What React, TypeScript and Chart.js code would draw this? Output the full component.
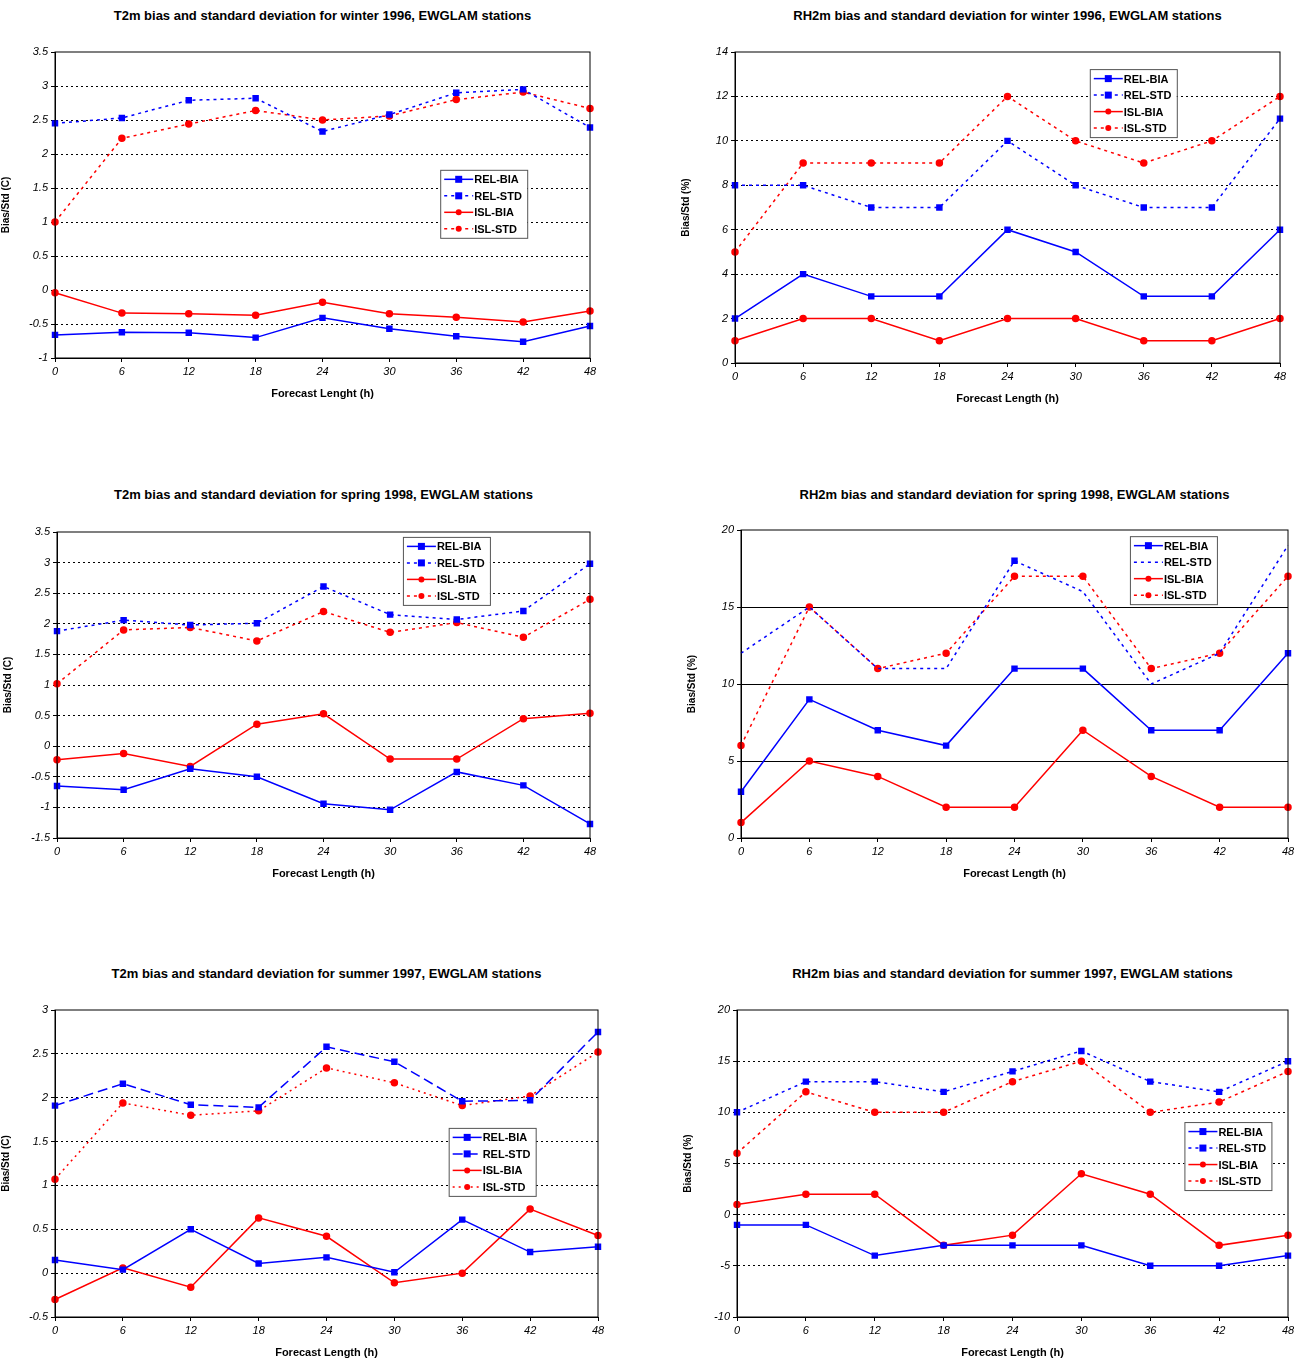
import { useEffect, useRef } from 'react'
import { Chart, registerables } from 'chart.js'

Chart.register(...registerables)

const HOURS = ['0', '6', '12', '18', '24', '30', '36', '42', '48']

// T2m winter 1996
const t2wRelBia = [-0.66, -0.62, -0.63, -0.7, -0.41, -0.57, -0.68, -0.76, -0.53]
const t2wRelStd = [2.45, 2.53, 2.79, 2.82, 2.33, 2.58, 2.9, 2.95, 2.39]
const t2wIslBia = [-0.04, -0.34, -0.35, -0.37, -0.18, -0.35, -0.4, -0.47, -0.31]
const t2wIslStd = [1.0, 2.23, 2.44, 2.64, 2.5, 2.56, 2.8, 2.91, 2.67]

// RH2m winter 1996
const rhwRelBia = [2, 4, 3, 3, 6, 5, 3, 3, 6]
const rhwRelStd = [8, 8, 7, 7, 10, 8, 7, 7, 11]
const rhwIslBia = [1, 2, 2, 1, 2, 2, 1, 1, 2]
const rhwIslStd = [5, 9, 9, 9, 12, 10, 9, 10, 12]

// T2m spring 1998
const t2sRelBia = [-0.65, -0.71, -0.37, -0.5, -0.94, -1.04, -0.42, -0.64, -1.27]
const t2sRelStd = [1.88, 2.06, 1.98, 2.01, 2.61, 2.15, 2.07, 2.21, 2.98]
const t2sIslBia = [-0.22, -0.12, -0.33, 0.36, 0.53, -0.21, -0.21, 0.45, 0.54]
const t2sIslStd = [1.02, 1.9, 1.94, 1.72, 2.2, 1.86, 2.02, 1.78, 2.4]

// RH2m spring 1998
const rhsRelBia = [3, 9, 7, 6, 11, 11, 7, 7, 12]
const rhsRelStd = [12, 15, 11, 11, 18, 16, 10, 12, 19]
const rhsIslBia = [1, 5, 4, 2, 2, 7, 4, 2, 2]
const rhsIslStd = [6, 15, 11, 12, 17, 17, 11, 12, 17]

// T2m summer 1997
const t2uRelBia = [0.15, 0.04, 0.5, 0.11, 0.18, 0.01, 0.61, 0.24, 0.3]
const t2uRelStd = [1.91, 2.16, 1.92, 1.89, 2.58, 2.41, 1.96, 1.97, 2.75]
const t2uIslBia = [-0.3, 0.06, -0.16, 0.63, 0.42, -0.11, 0.0, 0.73, 0.43]
const t2uIslStd = [1.07, 1.94, 1.8, 1.85, 2.34, 2.17, 1.91, 2.02, 2.52]

// RH2m summer 1997
const rhuRelBia = [-1, -1, -4, -3, -3, -3, -5, -5, -4]
const rhuRelStd = [10, 13, 13, 12, 14, 16, 13, 12, 15]
const rhuIslBia = [1, 2, 2, -3, -2, 4, 2, -3, -2]
const rhuIslStd = [6, 12, 10, 10, 13, 15, 10, 11, 14]

const BLUE = '#0000ff'
const RED = '#ff0000'
const FONT = 'Liberation Sans, Arial, sans-serif'

type Series = { label: string; data: number[]; color: string; dash: number[]; marker: 'rect' | 'circle'; radius?: number[] }

type PanelDef = {
  title: string
  xTitle: string
  yTitle: string
  min: number
  max: number
  step: number
  series: Series[]
  solidGrid?: boolean
  // plot area in page coords
  plot: [number, number, number, number]
  titleY: number
  legend: [number, number]
}

const legendPlugin = {
  id: 'boxLegend',
  afterDraw(chart: any, _args: any, opts: any) {
    const { ctx, chartArea: a } = chart
    ctx.save()
    ctx.strokeStyle = '#000'
    ctx.lineWidth = 1
    ctx.setLineDash([])
    ctx.strokeRect(a.left, a.top, a.right - a.left, a.bottom - a.top)
    const x = a.left + opts.fx * (a.right - a.left)
    const y = a.top + opts.fy * (a.bottom - a.top)
    const w = 87
    const rh = 16.5
    ctx.fillStyle = '#fff'
    ctx.fillRect(x, y, w, rh * 4 + 2)
    ctx.strokeStyle = '#555'
    ctx.strokeRect(x + 0.5, y + 0.5, w, rh * 4 + 2)
    chart.data.datasets.forEach((ds: any, i: number) => {
      const cy = y + 9.5 + i * rh
      ctx.strokeStyle = ds.borderColor
      ctx.lineWidth = 1.5
      ctx.setLineDash(ds.borderDash || [])
      ctx.beginPath()
      ctx.moveTo(x + 4, cy)
      ctx.lineTo(x + 33, cy)
      ctx.stroke()
      ctx.setLineDash([])
      ctx.fillStyle = ds.borderColor
      const noMarker = Array.isArray(ds.pointRadius)
      if (!noMarker) {
        if (ds.pointStyle === 'rect') ctx.fillRect(x + 15, cy - 3.5, 7, 7)
        else {
          ctx.beginPath()
          ctx.arc(x + 18.5, cy, 3, 0, Math.PI * 2)
          ctx.fill()
        }
      }
      ctx.fillStyle = '#000'
      ctx.font = `bold 11px ${FONT}`
      ctx.textBaseline = 'middle'
      ctx.fillText(ds.label, x + 34, cy + 1)
    })
    ctx.restore()
  },
}

function Panel({ p }: { p: PanelDef }) {
  const ref = useRef<HTMLCanvasElement>(null)
  const [pl, pt, pr, pb] = p.plot
  const left = pl - 55
  const top = pt - 10
  const width = pr - left + 14
  const height = pb - top + 45

  useEffect(() => {
    if (!ref.current) return
    const chart = new Chart(ref.current, {
      type: 'line',
      data: {
        labels: HOURS,
        datasets: p.series.map((s) => ({
          label: s.label,
          data: s.data,
          borderColor: s.color,
          backgroundColor: s.color,
          borderDash: s.dash,
          borderWidth: 1.5,
          pointStyle: s.marker,
          pointRadius: s.radius ?? (s.marker === 'rect' ? 3.5 : 3),
          fill: false,
          tension: 0,
        })),
      },
      options: {
        responsive: false,
        animation: false,
        layout: { padding: { top: 10, right: 14 } },
        plugins: {
          legend: { display: false },
          tooltip: { enabled: false },
          boxLegend: { fx: p.legend[0], fy: p.legend[1] },
        } as any,
        scales: {
          x: {
            offset: false,
            grid: { display: true, drawOnChartArea: false, color: '#000', tickLength: 4 },
            border: { color: '#000' },
            ticks: { color: '#000', font: { family: FONT, size: 11, style: 'italic' }, maxRotation: 0, autoSkip: false },
            title: { display: true, text: p.xTitle, color: '#000', font: { family: FONT, size: 11, weight: 'bold' }, padding: 2 },
            afterFit: (s: any) => { s.height = 45 },
          },
          y: {
            min: p.min,
            max: p.max,
            grid: {
              color: (c: any) => (c.tick && (c.tick.value === p.min || c.tick.value === p.max) ? 'transparent' : '#000'),
              tickBorderDash: [],
              tickColor: '#000',
              tickLength: 4,
            } as any,
            border: { color: '#000', dash: p.solidGrid ? [] : [2, 3] },
            ticks: {
              stepSize: p.step, color: '#000', font: { family: FONT, size: 11, style: 'italic' }, padding: 3,
              callback: (v: any) => String(Math.round(Number(v) * 100) / 100),
            },
            title: { display: true, text: p.yTitle, color: '#000', font: { family: FONT, size: 10, weight: 'bold' }, padding: 0 },
            afterFit: (s: any) => { s.width = 55 },
          },
        },
      },
      plugins: [legendPlugin],
    })
    return () => chart.destroy()
  }, [p])

  return (
    <>
      <div
        style={{
          position: 'absolute', left: pl - 60, width: pr - pl + 120, top: p.titleY - 8, textAlign: 'center',
          font: `bold 13px ${FONT}`, color: '#000',
        }}
      >
        {p.title}
      </div>
      <canvas ref={ref} width={width} height={height} style={{ position: 'absolute', left, top, width, height }} />
    </>
  )
}

const mk = (rb: number[], rs: number[], ib: number[], is: number[], rsDash: number[], isDash: number[], rsRadius?: number[]): Series[] => [
  { label: 'REL-BIA', data: rb, color: BLUE, dash: [], marker: 'rect' },
  { label: 'REL-STD', data: rs, color: BLUE, dash: rsDash, marker: 'rect', radius: rsRadius },
  { label: 'ISL-BIA', data: ib, color: RED, dash: [], marker: 'circle' },
  { label: 'ISL-STD', data: is, color: RED, dash: isDash, marker: 'circle' },
]

const DOT = [3, 4]

const PANELS: PanelDef[] = [
  {
    title: 'T2m bias and standard deviation for winter 1996, EWGLAM stations', xTitle: 'Forecast Lenght (h)', yTitle: 'Bias/Std (C)',
    min: -1, max: 3.5, step: 0.5, series: mk(t2wRelBia, t2wRelStd, t2wIslBia, t2wIslStd, DOT, DOT),
    plot: [55, 52, 590, 358], titleY: 16, legend: [0.72, 0.385],
  },
  {
    title: 'RH2m bias and standard deviation for winter 1996, EWGLAM stations', xTitle: 'Forecast Length (h)', yTitle: 'Bias/Std (%)',
    min: 0, max: 14, step: 2, series: mk(rhwRelBia, rhwRelStd, rhwIslBia, rhwIslStd, DOT, DOT),
    plot: [735, 52, 1280, 363], titleY: 16, legend: [0.651, 0.055],
  },
  {
    title: 'T2m bias and standard deviation for spring 1998, EWGLAM stations', xTitle: 'Forecast Length (h)', yTitle: 'Bias/Std (C)',
    min: -1.5, max: 3.5, step: 0.5, series: mk(t2sRelBia, t2sRelStd, t2sIslBia, t2sIslStd, DOT, DOT),
    plot: [57, 532, 590, 838], titleY: 495, legend: [0.649, 0.016],
  },
  {
    title: 'RH2m bias and standard deviation for spring 1998, EWGLAM stations', xTitle: 'Forecast Length (h)', yTitle: 'Bias/Std (%)',
    min: 0, max: 20, step: 5, solidGrid: true,
    series: mk(rhsRelBia, rhsRelStd, rhsIslBia, rhsIslStd, DOT, DOT, [0, 0, 0, 0, 3.5, 0, 0, 0, 0]),
    plot: [741, 530, 1288, 838], titleY: 495, legend: [0.711, 0.02],
  },
  {
    title: 'T2m bias and standard deviation for summer 1997, EWGLAM stations', xTitle: 'Forecast Length (h)', yTitle: 'Bias/Std (C)',
    min: -0.5, max: 3, step: 0.5, series: mk(t2uRelBia, t2uRelStd, t2uIslBia, t2uIslStd, [10, 5], [2, 4]),
    plot: [55, 1010, 598, 1317], titleY: 974, legend: [0.725, 0.384],
  },
  {
    title: 'RH2m bias and standard deviation for summer 1997, EWGLAM stations', xTitle: 'Forecast Length (h)', yTitle: 'Bias/Std (%)',
    min: -10, max: 20, step: 5, series: mk(rhuRelBia, rhuRelStd, rhuIslBia, rhuIslStd, DOT, DOT),
    plot: [737, 1010, 1288, 1317], titleY: 974, legend: [0.812, 0.365],
  },
]

export default function App() {
  return (
    <div style={{ position: 'absolute', left: 0, top: 0, width: 1298, height: 1363, background: '#fff' }}>
      {PANELS.map((p, i) => (
        <Panel key={i} p={p} />
      ))}
    </div>
  )
}
